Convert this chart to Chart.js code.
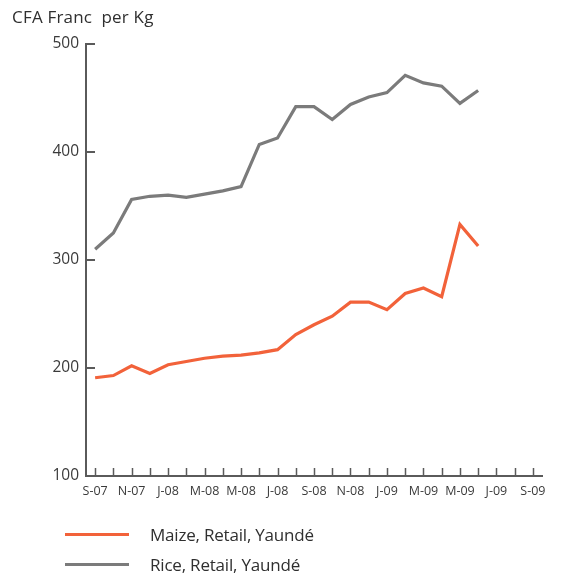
<!DOCTYPE html>
<html>
<head>
<meta charset="utf-8">
<script src="https://cdn.jsdelivr.net/npm/chart.js@4.4.1/dist/chart.umd.min.js"></script>
<style>
  html, body { margin: 0; padding: 0; background: #fff; }
  #wrap { position: relative; width: 566px; height: 578px; font-family: "Open Sans", sans-serif; color: #2f2f2f; }
  #title { position: absolute; left: 12px; top: 5px; font-size: 17px; white-space: pre; letter-spacing: 0.2px; }
  #legend { position: absolute; left: 65px; top: 519px; font-size: 17px; letter-spacing: -0.2px; }
  .item { display: flex; align-items: center; height: 30px; }
  .swatch { width: 64px; height: 3px; margin-right: 21px; }
</style>
</head>
<body>
<div id="wrap">
  <canvas id="chart" width="566" height="578"></canvas>
  <div id="title">CFA Franc  per Kg</div>
  <div id="legend"></div>
</div>
<script>
// monthly categories, Sep 2007 .. Sep 2009
const months = ['S-07','O-07','N-07','D-07','J-08','F-08','M-08','A-08','M-08','J-08','J-08','A-08',
  'S-08','O-08','N-08','D-08','J-09','F-09','M-09','A-09','M-09','J-09','J-09','A-09','S-09']

// retail prices, CFA franc per kg (Sep 07 .. Jun 09)
const maize = [191, 193, 202, 195, 203, 206, 209, 211, 212, 214, 217, 231,
  240, 248, 261, 261, 254, 269, 274, 266, 333, 313]
const rice = [310, 325, 356, 359, 360, 358, 361, 364, 368, 407, 413, 442,
  442, 430, 444, 451, 455, 471, 464, 461, 445, 457]

const yTicks = [100, 200, 300, 400, 500]

const seriesNames = ['Maize, Retail, Yaundé', 'Rice, Retail, Yaundé']
const seriesColors = ['#f2623a', '#7b7b7b']

const axisColor = '#5a5a5a'
const labelColor = '#3a3a3a'

// short tick marks pointing into the plot
const innerTicks = {
  id: 'innerTicks',
  afterDraw(chart) {
    const { ctx, scales: { x, y } } = chart
    ctx.save()
    ctx.strokeStyle = axisColor
    ctx.lineWidth = 2
    yTicks.forEach(v => {
      const py = Math.round(y.getPixelForValue(v))
      ctx.beginPath()
      ctx.moveTo(x.left, py)
      ctx.lineTo(x.left + 9, py)
      ctx.stroke()
    })
    ctx.lineWidth = 1.5
    months.forEach((m, i) => {
      const px = Math.round(x.getPixelForTick(i)) + 0.5
      ctx.beginPath()
      ctx.moveTo(px, y.bottom)
      ctx.lineTo(px, y.bottom - 8)
      ctx.stroke()
    })
    ctx.restore()
  }
}

const chart = new Chart(document.getElementById('chart'), {
  type: 'line',
  data: {
    labels: months,
    datasets: [
      { label: seriesNames[0], data: maize, borderColor: seriesColors[0], borderWidth: 3.2 },
      { label: seriesNames[1], data: rice, borderColor: seriesColors[1], borderWidth: 3.2 }
    ]
  },
  options: {
    responsive: false,
    animation: false,
    layout: { padding: { top: 44, right: 24, left: 0, bottom: 0 } },
    elements: { point: { radius: 0 }, line: { tension: 0, borderJoinStyle: 'miter' } },
    plugins: { legend: { display: false }, tooltip: { enabled: false } },
    scales: {
      x: {
        offset: true,
        grid: { display: false, drawTicks: false },
        border: { color: axisColor, width: 2 },
        ticks: {
          autoSkip: false, maxRotation: 0, padding: 8,
          color: labelColor, font: { family: 'Open Sans', size: 12.5 },
          callback: (v, i) => i % 2 === 0 ? months[i] : ''
        },
        afterFit: s => { s.height = 102 }
      },
      y: {
        min: 100, max: 500,
        afterBuildTicks: s => { s.ticks = yTicks.map(v => ({ value: v })) },
        grid: { display: false, drawTicks: false },
        border: { color: axisColor, width: 2 },
        ticks: { padding: 7, color: labelColor, font: { family: 'Open Sans', size: 15.5 } },
        afterFit: s => { s.width = 86 }
      }
    }
  },
  plugins: [innerTicks]
})

// legend below the plot, one row per series
const legend = document.getElementById('legend')
chart.data.datasets.forEach(ds => {
  const row = document.createElement('div')
  row.className = 'item'
  const sw = document.createElement('span')
  sw.className = 'swatch'
  sw.style.background = ds.borderColor
  const txt = document.createElement('span')
  txt.textContent = ds.label
  row.appendChild(sw)
  row.appendChild(txt)
  legend.appendChild(row)
})
</script>
</body>
</html>
